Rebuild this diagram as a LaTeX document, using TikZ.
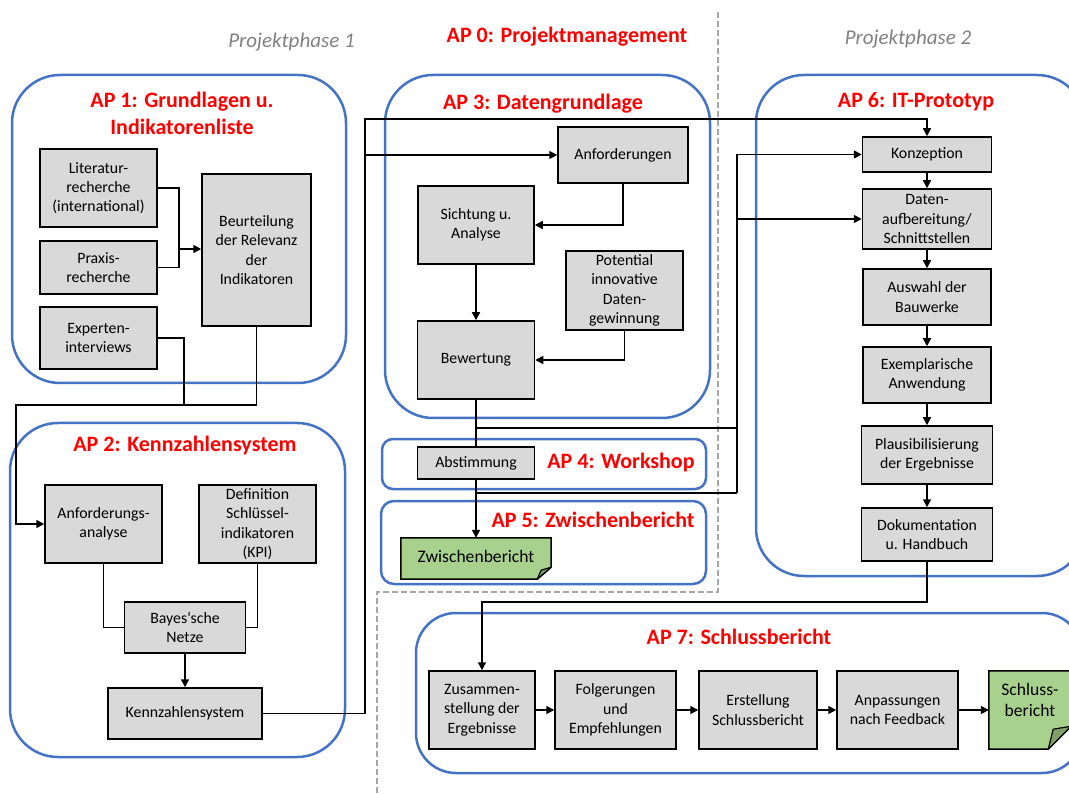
\documentclass[tikz,border=0pt]{standalone}
\usepackage{fontspec}
\setmainfont{Carlito}
\usepackage{tikz}
\usetikzlibrary{arrows.meta,backgrounds}

\definecolor{apblue}{RGB}{68,114,196}
\definecolor{boxgray}{RGB}{217,217,217}
\definecolor{docgreen}{RGB}{169,209,142}
\definecolor{foldgreen}{RGB}{128,160,106}
\definecolor{phasegray}{RGB}{166,166,166}
\definecolor{phasetext}{RGB}{128,128,128}

\tikzset{
  box/.style={draw, fill=boxgray, line width=1.5pt, align=center, inner sep=1pt,
    font=\fontsize{15.8}{19.3}\selectfont},
  doctext/.style={align=center, inner sep=0pt, font=\fontsize{17.6}{20.5}\selectfont},
  aptitle/.style={text=red, align=center, font=\bfseries\fontsize{22}{27}\selectfont},
  phasetitle/.style={text=phasetext, font=\itshape\fontsize{21}{25}\selectfont},
  apbox/.style={draw=apblue, line width=2.5pt, rounded corners=#1},
  apbox/.default=48,
  phaseline/.style={draw=phasegray, line width=2pt, dash pattern=on 6pt off 3pt},
  conn/.style={line width=1.5pt},
  arr/.style={conn, -{Triangle[length=8pt,width=8pt]}},
  docnote/.style={draw, line width=1.5pt, fill=docgreen},
  docfold/.style={draw, line width=1.2pt, fill=foldgreen, line join=round},
}

\begin{document}
\begin{tikzpicture}[x=1pt, y=-1pt]
  \useasboundingbox (0,0) rectangle (1069,794);

  % Work packages
  \draw[apbox] (12,75) rectangle (346,383);
  \draw[apbox] (10,423) rectangle (345,757);
  \draw[apbox] (385,75) rectangle (710,418);
  \draw[apbox=11] (382,439) rectangle (706,489);
  \draw[apbox=13] (381,501) rectangle (706,584);
  \draw[apbox] (756,75) rectangle (1085,576);
  \draw[apbox=40] (416,613) rectangle (1082,773);

  % Phase border
  \draw[phaseline] (718,12) -- (718,592) -- (377,592) -- (377,794);

  % Titles
  \node[phasetitle] (ph1) at (291.5,42) {Projektphase 1};
  \node[phasetitle] (ph2) at (908,39) {Projektphase 2};
  \node[aptitle] (ap0) at (567,37) {AP 0: Projektmanagement};
  \node[aptitle] (ap1) at (182,113.5) {AP 1: Grundlagen u.\\Indikatorenliste};
  \node[aptitle] (ap2) at (185,446) {AP 2: Kennzahlensystem};
  \node[aptitle] (ap3) at (543,104) {AP 3: Datengrundlage};
  \node[aptitle] (ap4) at (621,463) {AP 4: Workshop};
  \node[aptitle] (ap5) at (593,520) {AP 5: Zwischenbericht};
  \node[aptitle] (ap6) at (916,102) {AP 6: IT-Prototyp};
  \node[aptitle] (ap7) at (739,637) {AP 7: Schlussbericht};

  % AP 1
  \node[box, minimum width=117, minimum height=78] (lit) at (98.5,188) {Literatur-\\recherche\\(international)};
  \node[box, minimum width=117, minimum height=53] (prax) at (98.5,267.5) {Praxis-\\recherche};
  \node[box, minimum width=117, minimum height=62] (exp) at (98.5,338) {Experten-\\interviews};
  \node[box, minimum width=109, minimum height=152] (beur) at (256.5,250) {Beurteilung\\der Relevanz\\der\\Indikatoren};

  % AP 2
  \node[box, minimum width=117, minimum height=78] (anfa) at (103.5,524) {Anforderungs-\\analyse};
  \node[box, minimum width=117, minimum height=78] (kpi) at (257.5,524) {Definition\\Schlüssel-\\indikatoren\\(KPI)};
  \node[box, minimum width=121, minimum height=51] (bayes) at (185,627.5) {Bayes‘sche\\Netze};
  \node[box, minimum width=154, minimum height=51] (kenn) at (185,713.5) {Kennzahlensystem};

  % AP 3
  \node[box, minimum width=130, minimum height=56] (anf) at (623,155) {Anforderungen};
  \node[box, minimum width=116, minimum height=78] (sicht) at (476,225) {Sichtung u.\\Analyse};
  \node[box, minimum width=117, minimum height=79] (pot) at (624.5,290.5) {Potential\\innovative\\Daten-\\gewinnung};
  \node[box, minimum width=117, minimum height=78] (bew) at (476,360) {Bewertung};

  % AP 4 and AP 5
  \node[box, minimum width=117, minimum height=32] (abst) at (476,463) {Abstimmung};
  \node[doctext, minimum width=150, minimum height=41] (zwb) at (476,558.5) {\raisebox{5pt}{Zwischenbericht}};

  % AP 6
  \node[box, minimum width=129, minimum height=35] (konz) at (927,154.5) {Konzeption};
  \node[box, minimum width=129, minimum height=60] (daten) at (927,219) {Daten-\\aufbereitung/\\Schnittstellen};
  \node[box, minimum width=128, minimum height=56] (ausw) at (927,297) {Auswahl der\\Bauwerke};
  \node[box, minimum width=128, minimum height=56] (exem) at (927,375) {Exemplarische\\Anwendung};
  \node[box, minimum width=131, minimum height=58] (plaus) at (927,455) {Plausibilisierung\\der Ergebnisse};
  \node[box, minimum width=131, minimum height=53] (doku) at (927,534.5) {Dokumentation\\u. Handbuch};

  % AP 7
  \node[box, minimum width=106, minimum height=78] (zus) at (482,710) {Zusammen-\\stellung der\\Ergebnisse};
  \node[box, minimum width=121, minimum height=78] (folg) at (615.5,710) {Folgerungen\\und\\Empfehlungen};
  \node[box, minimum width=118, minimum height=78] (erst) at (758,710) {Erstellung\\Schlussbericht};
  \node[box, minimum width=121, minimum height=78] (anp) at (897.5,710) {Anpassungen\\nach Feedback};
  \node[doctext, minimum width=82, minimum height=78] (schl) at (1030,710) {Schluss-\\bericht\\\mbox{}};

  % Documents
  \begin{scope}[on background layer]
    \draw[docnote] (zwb.north west) -- (zwb.north east) -- ([yshift=12pt]zwb.south east)
      -- ([xshift=-14pt]zwb.south east) -- (zwb.south west) -- cycle;
    \draw[docfold] ([xshift=-14pt]zwb.south east) -- ([yshift=12pt]zwb.south east)
      -- ([xshift=-10pt,yshift=9pt]zwb.south east) -- cycle;
    \draw[docnote] (schl.north west) -- (schl.north east) -- ([yshift=23pt]schl.south east)
      -- ([xshift=-23pt]schl.south east) -- (schl.south west) -- cycle;
    \draw[docfold] ([xshift=-23pt]schl.south east) -- ([yshift=23pt]schl.south east)
      -- ([xshift=-18pt,yshift=20pt]schl.south east) -- cycle;
  \end{scope}

  % Connectors
  \coordinate (j1) at (179,249);
  \coordinate (j2) at (16,405);
  \coordinate (j2b) at (184,405);
  \coordinate (j3) at (365,119);
  \coordinate (j4) at (365,155);
  \coordinate (j5) at (737,428);
  \coordinate (j6) at (737,493);

  \draw[conn] (lit.east) -| (j1);
  \draw[conn] (prax.east) -| (j1);
  \draw[arr] (j1) -- (j1 -| beur.west);
  \draw[conn] (exp.east) -| (j2b);
  \draw[arr] (beur.south) |- (j2) |- (anfa.west);

  \draw[conn] (anfa.south) |- (bayes.west);
  \draw[conn] (kpi.south) |- (bayes.east);
  \draw[arr] (bayes.south) -- (kenn.north);
  \draw[arr] (kenn.east) -| (j3) -| (konz.north);
  \draw[arr] (j4) -- (anf.west);

  \draw[arr] (anf.south) |- (sicht.east);
  \draw[arr] (sicht.south) -- (bew.north);
  \draw[arr] (pot.south) |- (bew.east);
  \draw[conn] (bew.south) -- (abst.north);
  \draw[conn] (bew.south) |- (j5);
  \draw[conn] (abst.south) |- (j6);
  \draw[arr] (j6) |- (konz.west);
  \draw[arr] (j6) |- (daten.west);
  \draw[arr] (abst.south) -- (zwb.north);

  \foreach \a/\b in {konz/daten, daten/ausw, ausw/exem, exem/plaus, plaus/doku}
    \draw[arr] (\a.south) -- (\b.north);
  \draw[arr] (doku.south) -- ++(0,40) -| (zus.north);
  \foreach \a/\b in {zus/folg, folg/erst, erst/anp, anp/schl}
    \draw[arr] (\a.east) -- (\b.west);
\end{tikzpicture}
\end{document}
